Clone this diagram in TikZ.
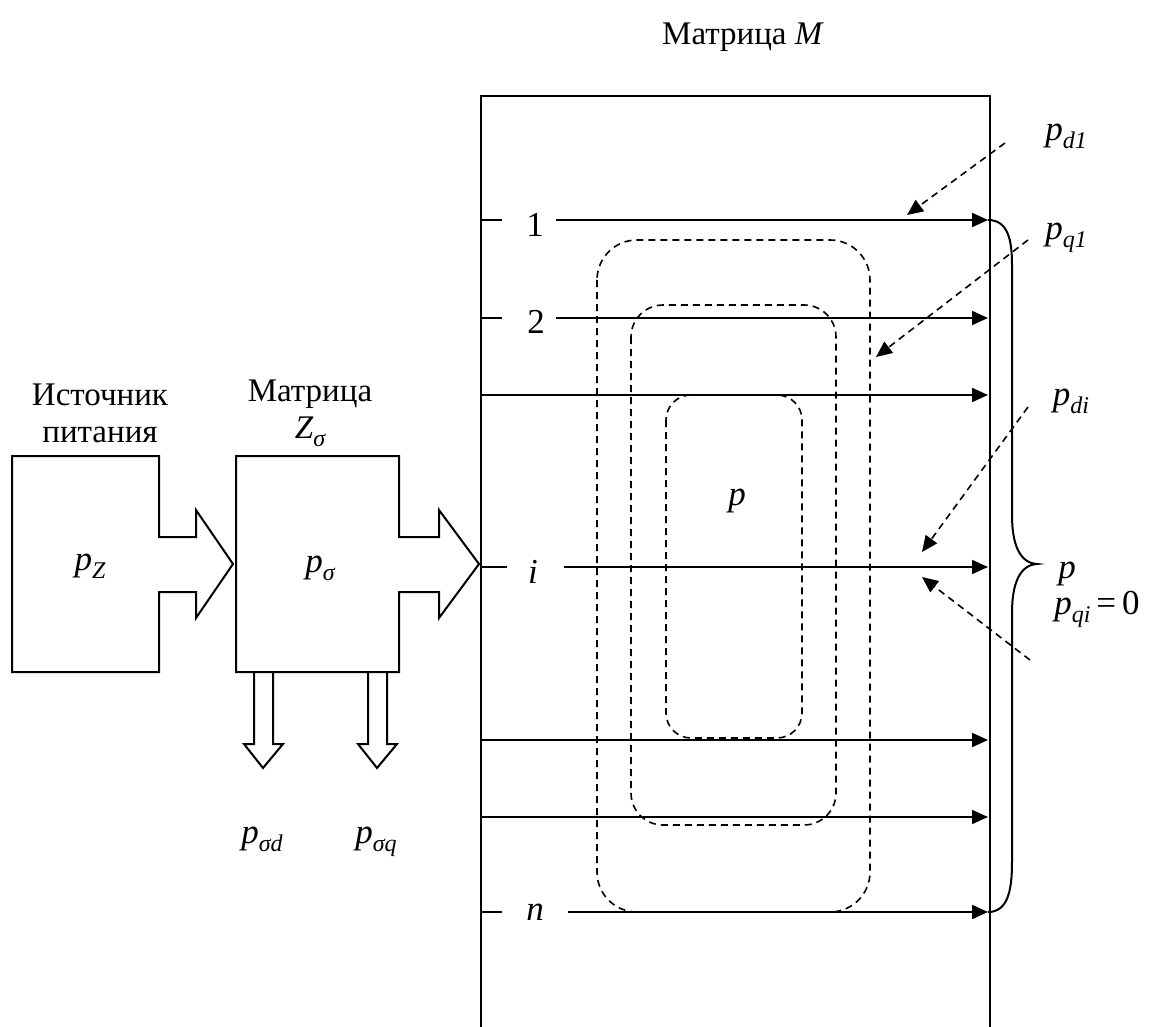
\documentclass[tikz,border=0pt]{standalone}
\usepackage{fontspec}
\setmainfont{Liberation Serif}
\usetikzlibrary{arrows.meta, positioning}
\newcommand{\idx}[2]{\textit{#1}\raisebox{-8pt}{\fontsize{24}{26}\selectfont\itshape #2}}
\tikzset{block/.style={draw, line width=2pt, line join=miter},
    row/.style={line width=2pt, -{Triangle[length=16pt,width=14pt]}},
    tick/.style={line width=2pt},
    group/.style={draw, line width=1.6pt, dash pattern=on 7pt off 5pt},
    load/.style={line width=1.6pt, dash pattern=on 7pt off 5pt,
        -{Triangle[length=16pt,width=14pt]}},
    caption/.style={font=\fontsize{33}{37}\selectfont, align=center, inner sep=0pt},
    var/.style={font=\fontsize{35}{39}\selectfont, inner sep=0pt, anchor=base}}

\begin{document}
\begin{tikzpicture}[x=1pt, y=-1pt]
  \useasboundingbox (0,0) rectangle (1149,1027);

  % Captions
  \node[caption] (srcCap) at (100,413) {Источник\\питания};
  \node[caption] (zCap)   at (310,413) {Матрица\\\idx{Z}{σ}};
  \node[caption] (mCap)   at (743,37)  {Матрица \textit{M}};

  % Source and Z blocks with outlet arrows
  \draw[block] (12,456) -- (159,456) -- (159,537) -- (196,537) -- (196,510)
    -- (233,564) -- (196,618) -- (196,592) -- (159,592) -- (159,672)
    -- (12,672) -- cycle;
  \draw[block] (236,456) -- (399,456) -- (399,537) -- (439,537) -- (439,510)
    -- (479,564) -- (439,618) -- (439,592) -- (399,592) -- (399,672)
    -- (236,672) -- cycle;
  \draw[block] (254,672) -- (254,744) -- (244,744) -- (263,768) -- (283,744)
    -- (273,744) -- (273,672);
  \draw[block] (368,672) -- (368,744) -- (358,744) -- (377,768) -- (397,744)
    -- (387,744) -- (387,672);
  \node[var] (pZ)   at (90,570)  {\idx{p}{Z}};
  \node[var] (ps)   at (320,572) {\idx{p}{σ}};
  \node[var] (psd)  at (262,843) {\idx{p}{σd}};
  \node[var] (psq)  at (376,843) {\idx{p}{σq}};

  % Matrix M
  \draw[block] (481,1027) -- (481,96) -- (990,96) -- (990,1027);

  % Rows
  \coordinate (r1L) at (481,220);  \coordinate (r1a) at (502,220);
  \coordinate (r1b) at (556,220);  \coordinate (r1R) at (988,220);
  \coordinate (r2L) at (481,318);  \coordinate (r2a) at (502,318);
  \coordinate (r2b) at (556,318);  \coordinate (r2R) at (988,318);
  \coordinate (r3L) at (481,395);  \coordinate (r3R) at (988,395);
  \coordinate (riL) at (481,567);  \coordinate (ria) at (507,567);
  \coordinate (rib) at (564,567);  \coordinate (riR) at (988,567);
  \coordinate (r5L) at (481,740);  \coordinate (r5R) at (988,740);
  \coordinate (r6L) at (481,817);  \coordinate (r6R) at (988,817);
  \coordinate (rnL) at (481,912);  \coordinate (rna) at (502,912);
  \coordinate (rnb) at (568,912);  \coordinate (rnR) at (988,912);

  \node[var] (n1) at (535,237) {1};
  \node[var] (n2) at (536,333) {2};
  \node[var] (ni) at (533,583) {\textit{i}};
  \node[var] (nn) at (535,920) {\textit{n}};

  \draw[tick] (r1L) -- (r1a);  \draw[row] (r1b) -- (r1R);
  \draw[tick] (r2L) -- (r2a);  \draw[row] (r2b) -- (r2R);
  \draw[row]  (r3L) -- (r3R);
  \draw[tick] (riL) -- (ria);  \draw[row] (rib) -- (riR);
  \draw[row]  (r5L) -- (r5R);
  \draw[row]  (r6L) -- (r6R);
  \draw[tick] (rnL) -- (rna);  \draw[row] (rnb) -- (rnR);

  % Nested groups
  \draw[group, rounded corners=40pt] (597,240) rectangle (870,912);
  \draw[group, rounded corners=32pt] (631,305) rectangle (836,825);
  \draw[group, rounded corners=25pt] (666,395) rectangle (802,738);
  \node[var] (pin) at (737,505) {\textit{p}};

  % Brace
  \draw[line width=2pt] (r1R) .. controls (1008,220) and (1012,240) .. (1012,265)
    -- (1012,515) .. controls (1012,545) and (1020,563) .. (1037,564)
    .. controls (1020,565) and (1012,583) .. (1012,613)
    -- (1012,862) .. controls (1012,890) and (1008,912) .. (rnR);
  \node[var] (pSum) at (1067,578) {\textit{p}};

  % Loads
  \coordinate (d1s) at (1005,143);  \coordinate (d1t) at (907,215);
  \coordinate (q1s) at (1028,240);  \coordinate (q1t) at (876,357);
  \coordinate (dis) at (1028,407);  \coordinate (dit) at (922,552);
  \coordinate (qis) at (1030,660);  \coordinate (qit) at (922,577);
  \draw[load] (d1s) -- (d1t);
  \draw[load] (q1s) -- (q1t);
  \draw[load] (dis) -- (dit);
  \draw[load] (qis) -- (qit);
  \node[var] (pd1) at (1066,141) {\idx{p}{d1}};
  \node[var] (pq1) at (1066,240) {\idx{p}{q1}};
  \node[var] (pdi) at (1071,405) {\idx{p}{di}};
  \node[var] (pqi) at (1097,614) {\idx{p}{qi}\,=\,0};
\end{tikzpicture}
\end{document}
